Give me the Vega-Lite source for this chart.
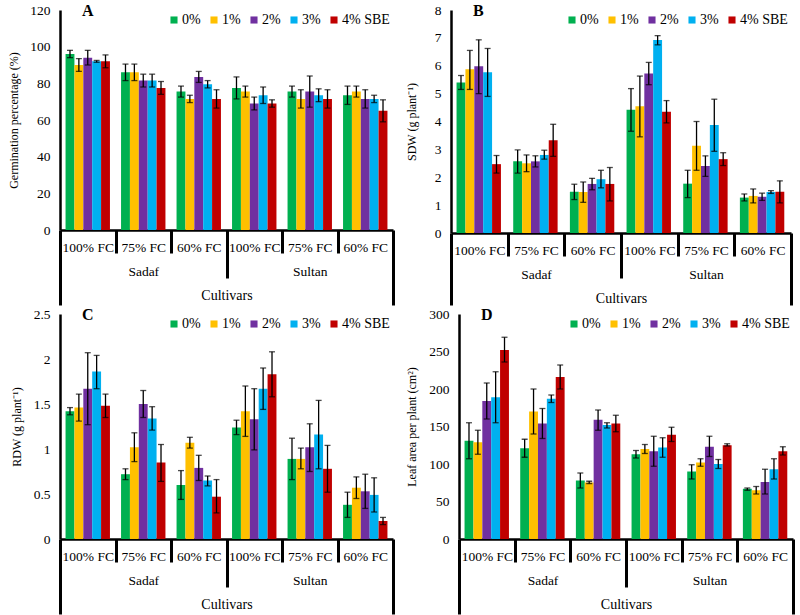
{
"$schema": "https://vega.github.io/schema/vega-lite/v6.json",
"padding": {"left": 7, "top": 3, "right": 2, "bottom": 0},
"spacing": 0,
"config": {
 "font": "Liberation Serif",
 "view": {"stroke": null},
 "concat": {"spacing": 10},
 "style": {"guide-label": {"font": "Liberation Serif", "fill": "black"}, "guide-title": {"font": "Liberation Serif", "fill": "black"}, "group-title": {"font": "Liberation Serif"}},
 "axis": {"labelFont": "Liberation Serif", "titleFont": "Liberation Serif", "labelColor": "black", "titleColor": "black", "labelFontSize": 13.5, "titleFontSize": 14, "titleFontWeight": "normal", "domainColor": "black", "tickColor": "black", "grid": false},
 "axisY": {"domainWidth": 2.5, "ticks": false, "labelPadding": 10, "labelOverlap": false, "titlePadding": 8, "titleFontSize": 12},
 "legend": {"orient": "top-right", "direction": "horizontal", "symbolType": "square", "symbolSize": 50, "symbolStrokeWidth": 0, "labelFont": "Liberation Serif", "labelFontSize": 14, "labelOffset": 1, "columnPadding": 6, "offset": 3, "padding": 0, "labelColor": "black"},
 "title": {"anchor": "start", "frame": "group", "font": "Liberation Serif", "fontSize": 16, "fontWeight": "bold", "color": "black", "dx": 22, "dy": 20}
},
"datasets": {
"A": [
{"g":"Sadaf|100% FC","t":"0%","v":96,"lo":94,"hi":98},{"g":"Sadaf|100% FC","t":"1%","v":90,"lo":86.5,"hi":93.5},{"g":"Sadaf|100% FC","t":"2%","v":94,"lo":90,"hi":98},{"g":"Sadaf|100% FC","t":"3%","v":92,"lo":91.5,"hi":92.5},{"g":"Sadaf|100% FC","t":"4% SBE","v":92,"lo":88.5,"hi":95.5},
{"g":"Sadaf|75% FC","t":"0%","v":86,"lo":81.5,"hi":90.5},{"g":"Sadaf|75% FC","t":"1%","v":86,"lo":81.5,"hi":90.5},{"g":"Sadaf|75% FC","t":"2%","v":81.5,"lo":78,"hi":85},{"g":"Sadaf|75% FC","t":"3%","v":81.5,"lo":78,"hi":85},{"g":"Sadaf|75% FC","t":"4% SBE","v":77.5,"lo":74,"hi":81},
{"g":"Sadaf|60% FC","t":"0%","v":75.5,"lo":72.5,"hi":78.5},{"g":"Sadaf|60% FC","t":"1%","v":71.5,"lo":69.5,"hi":73.5},{"g":"Sadaf|60% FC","t":"2%","v":83.5,"lo":80.5,"hi":86.5},{"g":"Sadaf|60% FC","t":"3%","v":79.5,"lo":77.5,"hi":81.5},{"g":"Sadaf|60% FC","t":"4% SBE","v":71.5,"lo":66.5,"hi":76.5},
{"g":"Sultan|100% FC","t":"0%","v":77.5,"lo":71.5,"hi":83.5},{"g":"Sultan|100% FC","t":"1%","v":75.5,"lo":72.5,"hi":78.5},{"g":"Sultan|100% FC","t":"2%","v":69,"lo":65.5,"hi":72.5},{"g":"Sultan|100% FC","t":"3%","v":73.5,"lo":69,"hi":78},{"g":"Sultan|100% FC","t":"4% SBE","v":69,"lo":67,"hi":71},
{"g":"Sultan|75% FC","t":"0%","v":75.5,"lo":72.5,"hi":78.5},{"g":"Sultan|75% FC","t":"1%","v":71.5,"lo":66.5,"hi":76.5},{"g":"Sultan|75% FC","t":"2%","v":75.5,"lo":67,"hi":84},{"g":"Sultan|75% FC","t":"3%","v":73.5,"lo":70,"hi":77},{"g":"Sultan|75% FC","t":"4% SBE","v":71.5,"lo":66.5,"hi":76.5},
{"g":"Sultan|60% FC","t":"0%","v":73.5,"lo":68.5,"hi":78.5},{"g":"Sultan|60% FC","t":"1%","v":75.5,"lo":72.5,"hi":78.5},{"g":"Sultan|60% FC","t":"2%","v":71.5,"lo":66.5,"hi":76.5},{"g":"Sultan|60% FC","t":"3%","v":71.5,"lo":69.5,"hi":73.5},{"g":"Sultan|60% FC","t":"4% SBE","v":65,"lo":59,"hi":71}
],
"B": [
{"g":"Sadaf|100% FC","t":"0%","v":5.4,"lo":5.15,"hi":5.65},{"g":"Sadaf|100% FC","t":"1%","v":5.87,"lo":5.15,"hi":6.55},{"g":"Sadaf|100% FC","t":"2%","v":5.98,"lo":5.0,"hi":6.93},{"g":"Sadaf|100% FC","t":"3%","v":5.77,"lo":4.9,"hi":6.62},{"g":"Sadaf|100% FC","t":"4% SBE","v":2.47,"lo":2.15,"hi":2.78},
{"g":"Sadaf|75% FC","t":"0%","v":2.57,"lo":2.15,"hi":2.98},{"g":"Sadaf|75% FC","t":"1%","v":2.5,"lo":2.2,"hi":2.8},{"g":"Sadaf|75% FC","t":"2%","v":2.57,"lo":2.37,"hi":2.77},{"g":"Sadaf|75% FC","t":"3%","v":2.8,"lo":2.65,"hi":2.97},{"g":"Sadaf|75% FC","t":"4% SBE","v":3.33,"lo":2.75,"hi":3.9},
{"g":"Sadaf|60% FC","t":"0%","v":1.48,"lo":1.2,"hi":1.75},{"g":"Sadaf|60% FC","t":"1%","v":1.47,"lo":1.1,"hi":1.83},{"g":"Sadaf|60% FC","t":"2%","v":1.76,"lo":1.55,"hi":1.96},{"g":"Sadaf|60% FC","t":"3%","v":1.93,"lo":1.62,"hi":2.25},{"g":"Sadaf|60% FC","t":"4% SBE","v":1.76,"lo":1.15,"hi":2.35},
{"g":"Sultan|100% FC","t":"0%","v":4.42,"lo":3.65,"hi":5.18},{"g":"Sultan|100% FC","t":"1%","v":4.55,"lo":3.45,"hi":5.63},{"g":"Sultan|100% FC","t":"2%","v":5.72,"lo":5.32,"hi":6.12},{"g":"Sultan|100% FC","t":"3%","v":6.92,"lo":6.75,"hi":7.08},{"g":"Sultan|100% FC","t":"4% SBE","v":4.35,"lo":3.95,"hi":4.75},
{"g":"Sultan|75% FC","t":"0%","v":1.77,"lo":1.27,"hi":2.25},{"g":"Sultan|75% FC","t":"1%","v":3.13,"lo":2.25,"hi":4.0},{"g":"Sultan|75% FC","t":"2%","v":2.4,"lo":2.03,"hi":2.77},{"g":"Sultan|75% FC","t":"3%","v":3.87,"lo":2.93,"hi":4.8},{"g":"Sultan|75% FC","t":"4% SBE","v":2.65,"lo":2.42,"hi":2.88},
{"g":"Sultan|60% FC","t":"0%","v":1.27,"lo":1.15,"hi":1.4},{"g":"Sultan|60% FC","t":"1%","v":1.33,"lo":1.08,"hi":1.58},{"g":"Sultan|60% FC","t":"2%","v":1.3,"lo":1.17,"hi":1.43},{"g":"Sultan|60% FC","t":"3%","v":1.47,"lo":1.42,"hi":1.52},{"g":"Sultan|60% FC","t":"4% SBE","v":1.48,"lo":1.08,"hi":1.87}
],
"C": [
{"g":"Sadaf|100% FC","t":"0%","v":1.42,"lo":1.38,"hi":1.46},{"g":"Sadaf|100% FC","t":"1%","v":1.46,"lo":1.31,"hi":1.61},{"g":"Sadaf|100% FC","t":"2%","v":1.67,"lo":1.27,"hi":2.07},{"g":"Sadaf|100% FC","t":"3%","v":1.86,"lo":1.67,"hi":2.04},{"g":"Sadaf|100% FC","t":"4% SBE","v":1.48,"lo":1.35,"hi":1.61},
{"g":"Sadaf|75% FC","t":"0%","v":0.72,"lo":0.66,"hi":0.78},{"g":"Sadaf|75% FC","t":"1%","v":1.02,"lo":0.86,"hi":1.18},{"g":"Sadaf|75% FC","t":"2%","v":1.5,"lo":1.35,"hi":1.65},{"g":"Sadaf|75% FC","t":"3%","v":1.34,"lo":1.21,"hi":1.47},{"g":"Sadaf|75% FC","t":"4% SBE","v":0.85,"lo":0.64,"hi":1.05},
{"g":"Sadaf|60% FC","t":"0%","v":0.6,"lo":0.44,"hi":0.76},{"g":"Sadaf|60% FC","t":"1%","v":1.07,"lo":1.01,"hi":1.13},{"g":"Sadaf|60% FC","t":"2%","v":0.79,"lo":0.65,"hi":0.93},{"g":"Sadaf|60% FC","t":"3%","v":0.65,"lo":0.59,"hi":0.7},{"g":"Sadaf|60% FC","t":"4% SBE","v":0.47,"lo":0.29,"hi":0.66},
{"g":"Sultan|100% FC","t":"0%","v":1.24,"lo":1.16,"hi":1.32},{"g":"Sultan|100% FC","t":"1%","v":1.42,"lo":1.14,"hi":1.7},{"g":"Sultan|100% FC","t":"2%","v":1.33,"lo":0.99,"hi":1.67},{"g":"Sultan|100% FC","t":"3%","v":1.67,"lo":1.44,"hi":1.9},{"g":"Sultan|100% FC","t":"4% SBE","v":1.83,"lo":1.58,"hi":2.08},
{"g":"Sultan|75% FC","t":"0%","v":0.89,"lo":0.66,"hi":1.12},{"g":"Sultan|75% FC","t":"1%","v":0.89,"lo":0.78,"hi":1.01},{"g":"Sultan|75% FC","t":"2%","v":1.02,"lo":0.75,"hi":1.28},{"g":"Sultan|75% FC","t":"3%","v":1.16,"lo":0.78,"hi":1.54},{"g":"Sultan|75% FC","t":"4% SBE","v":0.78,"lo":0.52,"hi":1.04},
{"g":"Sultan|60% FC","t":"0%","v":0.38,"lo":0.24,"hi":0.52},{"g":"Sultan|60% FC","t":"1%","v":0.57,"lo":0.45,"hi":0.69},{"g":"Sultan|60% FC","t":"2%","v":0.53,"lo":0.34,"hi":0.72},{"g":"Sultan|60% FC","t":"3%","v":0.49,"lo":0.3,"hi":0.68},{"g":"Sultan|60% FC","t":"4% SBE","v":0.2,"lo":0.16,"hi":0.24}
],
"D": [
{"g":"Sadaf|100% FC","t":"0%","v":131,"lo":107,"hi":155},{"g":"Sadaf|100% FC","t":"1%","v":129,"lo":113,"hi":145},{"g":"Sadaf|100% FC","t":"2%","v":184,"lo":160,"hi":208},{"g":"Sadaf|100% FC","t":"3%","v":189,"lo":155,"hi":223},{"g":"Sadaf|100% FC","t":"4% SBE","v":252,"lo":236,"hi":269},
{"g":"Sadaf|75% FC","t":"0%","v":121,"lo":109,"hi":133},{"g":"Sadaf|75% FC","t":"1%","v":170,"lo":140,"hi":200},{"g":"Sadaf|75% FC","t":"2%","v":154,"lo":134,"hi":174},{"g":"Sadaf|75% FC","t":"3%","v":187,"lo":182,"hi":192},{"g":"Sadaf|75% FC","t":"4% SBE","v":216,"lo":200,"hi":232},
{"g":"Sadaf|60% FC","t":"0%","v":78,"lo":68,"hi":88},{"g":"Sadaf|60% FC","t":"1%","v":75.5,"lo":74,"hi":77},{"g":"Sadaf|60% FC","t":"2%","v":159,"lo":145,"hi":172},{"g":"Sadaf|60% FC","t":"3%","v":152,"lo":148,"hi":155},{"g":"Sadaf|60% FC","t":"4% SBE","v":154,"lo":143,"hi":165},
{"g":"Sultan|100% FC","t":"0%","v":113,"lo":108,"hi":118},{"g":"Sultan|100% FC","t":"1%","v":120,"lo":114,"hi":126},{"g":"Sultan|100% FC","t":"2%","v":117,"lo":97,"hi":137},{"g":"Sultan|100% FC","t":"3%","v":122,"lo":109,"hi":135},{"g":"Sultan|100% FC","t":"4% SBE","v":139,"lo":130,"hi":149},
{"g":"Sultan|75% FC","t":"0%","v":90,"lo":80,"hi":99},{"g":"Sultan|75% FC","t":"1%","v":102,"lo":97,"hi":107},{"g":"Sultan|75% FC","t":"2%","v":123,"lo":110,"hi":137},{"g":"Sultan|75% FC","t":"3%","v":100,"lo":94,"hi":106},{"g":"Sultan|75% FC","t":"4% SBE","v":125,"lo":124,"hi":127},
{"g":"Sultan|60% FC","t":"0%","v":67,"lo":65,"hi":68},{"g":"Sultan|60% FC","t":"1%","v":65,"lo":60,"hi":70},{"g":"Sultan|60% FC","t":"2%","v":76,"lo":60,"hi":93},{"g":"Sultan|60% FC","t":"3%","v":93,"lo":80,"hi":107},{"g":"Sultan|60% FC","t":"4% SBE","v":117,"lo":112,"hi":123}
]
},
"vconcat": [
{"hconcat": [
{
 "width": 333, "height": 220, "title": "A",
 "data": {"name": "A"},
 "encoding": {
  "x": {"field": "g", "type": "nominal", "sort": ["Sadaf|100% FC","Sadaf|75% FC","Sadaf|60% FC","Sultan|100% FC","Sultan|75% FC","Sultan|60% FC"], "scale": {"paddingInner": 0, "paddingOuter": 0}, "title": "Cultivars",
   "axis": {"labelExpr": "indexof(datum.label,'75%') >= 0 ? [split(datum.label,'|')[1], split(datum.label,'|')[0]] : split(datum.label,'|')[1]", "labelAngle": 0, "labelBaseline": "top", "labelPadding": 7, "labelLineHeight": 24, "labelOverlap": false, "tickBand": "extent", "tickSize": 3, "tickWidth": 3, "domainWidth": 2.5, "titleY": 58, "titleBaseline": "top",
    "encoding": {"ticks": {"y2": {"condition": [{"test": "datum.index < 0 || datum.value === 'Sultan|60% FC'", "value": 75}, {"test": "datum.value === 'Sadaf|60% FC'", "value": 48}], "value": 23}}}}},
  "xOffset": {"field": "t", "type": "nominal", "sort": ["0%","1%","2%","3%","4% SBE"], "scale": {"paddingInner": 0, "paddingOuter": 0.625}},
  "y": {"field": "v", "type": "quantitative", "scale": {"domain": [0,120], "nice": false}, "axis": {"values": [0,20,40,60,80,100,120], "labelOverlap": false, "labelExpr": "'' + datum.value", "titlePadding": 9}, "title": "Germination percentage (%)"}
 },
 "layer": [
  {"mark": "bar", "encoding": {
    "color": {"field": "t", "type": "nominal", "sort": ["0%","1%","2%","3%","4% SBE"], "scale": {"domain": ["0%","1%","2%","3%","4% SBE"], "range": ["#00B050","#FFC000","#7030A0","#00B0F0","#C00000"]}, "legend": {"title": null}}}},
  {"mark": {"type": "rule", "color": "black", "strokeWidth": 1.3}, "encoding": {"y": {"field": "lo", "type": "quantitative", "scale": {"domain": [0,120], "nice": false}, "axis": {"values": [0,20,40,60,80,100,120], "labelOverlap": false, "labelExpr": "'' + datum.value", "titlePadding": 9}, "title": "Germination percentage (%)"}, "y2": {"field": "hi"}}},
  {"mark": {"type": "tick", "color": "black", "size": 6, "thickness": 1.3}, "encoding": {"y": {"field": "lo", "type": "quantitative", "scale": {"domain": [0,120], "nice": false}, "axis": {"values": [0,20,40,60,80,100,120], "labelOverlap": false, "labelExpr": "'' + datum.value", "titlePadding": 9}, "title": "Germination percentage (%)"}}},
  {"mark": {"type": "tick", "color": "black", "size": 6, "thickness": 1.3}, "encoding": {"y": {"field": "hi", "type": "quantitative", "scale": {"domain": [0,120], "nice": false}, "axis": {"values": [0,20,40,60,80,100,120], "labelOverlap": false, "labelExpr": "'' + datum.value", "titlePadding": 9}, "title": "Germination percentage (%)"}}}
 ]
},
{
 "width": 340, "height": 223, "title": "B",
 "data": {"name": "B"},
 "encoding": {
  "x": {"field": "g", "type": "nominal", "sort": ["Sadaf|100% FC","Sadaf|75% FC","Sadaf|60% FC","Sultan|100% FC","Sultan|75% FC","Sultan|60% FC"], "scale": {"paddingInner": 0, "paddingOuter": 0}, "title": "Cultivars",
   "axis": {"labelExpr": "indexof(datum.label,'75%') >= 0 ? [split(datum.label,'|')[1], split(datum.label,'|')[0]] : split(datum.label,'|')[1]", "labelAngle": 0, "labelBaseline": "top", "labelPadding": 7, "labelLineHeight": 24, "labelOverlap": false, "tickBand": "extent", "tickSize": 3, "tickWidth": 3, "domainWidth": 2.5, "titleY": 58, "titleBaseline": "top",
    "encoding": {"ticks": {"y2": {"condition": [{"test": "datum.index < 0 || datum.value === 'Sultan|60% FC'", "value": 72}, {"test": "datum.value === 'Sadaf|60% FC'", "value": 45}], "value": 23}}}}},
  "xOffset": {"field": "t", "type": "nominal", "sort": ["0%","1%","2%","3%","4% SBE"], "scale": {"paddingInner": 0, "paddingOuter": 0.625}},
  "y": {"field": "v", "type": "quantitative", "scale": {"domain": [0,8], "nice": false}, "axis": {"values": [0,1,2,3,4,5,6,7,8], "labelOverlap": false, "labelExpr": "'' + datum.value", "titlePadding": 16}, "title": "SDW (g plant⁻¹)"}
 },
 "layer": [
  {"mark": "bar", "encoding": {
    "color": {"field": "t", "type": "nominal", "sort": ["0%","1%","2%","3%","4% SBE"], "scale": {"domain": ["0%","1%","2%","3%","4% SBE"], "range": ["#00B050","#FFC000","#7030A0","#00B0F0","#C00000"]}, "legend": {"title": null}}}},
  {"mark": {"type": "rule", "color": "black", "strokeWidth": 1.3}, "encoding": {"y": {"field": "lo", "type": "quantitative", "scale": {"domain": [0,8], "nice": false}, "axis": {"values": [0,1,2,3,4,5,6,7,8], "labelOverlap": false, "labelExpr": "'' + datum.value", "titlePadding": 16}, "title": "SDW (g plant⁻¹)"}, "y2": {"field": "hi"}}},
  {"mark": {"type": "tick", "color": "black", "size": 6, "thickness": 1.3}, "encoding": {"y": {"field": "lo", "type": "quantitative", "scale": {"domain": [0,8], "nice": false}, "axis": {"values": [0,1,2,3,4,5,6,7,8], "labelOverlap": false, "labelExpr": "'' + datum.value", "titlePadding": 16}, "title": "SDW (g plant⁻¹)"}}},
  {"mark": {"type": "tick", "color": "black", "size": 6, "thickness": 1.3}, "encoding": {"y": {"field": "hi", "type": "quantitative", "scale": {"domain": [0,8], "nice": false}, "axis": {"values": [0,1,2,3,4,5,6,7,8], "labelOverlap": false, "labelExpr": "'' + datum.value", "titlePadding": 16}, "title": "SDW (g plant⁻¹)"}}}
 ]
}
], "resolve": {"scale": {"color": "independent"}, "legend": {"color": "independent"}}},
{"hconcat": [
{
 "width": 333, "height": 225, "title": "C",
 "data": {"name": "C"},
 "encoding": {
  "x": {"field": "g", "type": "nominal", "sort": ["Sadaf|100% FC","Sadaf|75% FC","Sadaf|60% FC","Sultan|100% FC","Sultan|75% FC","Sultan|60% FC"], "scale": {"paddingInner": 0, "paddingOuter": 0}, "title": "Cultivars",
   "axis": {"labelExpr": "indexof(datum.label,'75%') >= 0 ? [split(datum.label,'|')[1], split(datum.label,'|')[0]] : split(datum.label,'|')[1]", "labelAngle": 0, "labelBaseline": "top", "labelPadding": 7, "labelLineHeight": 24, "labelOverlap": false, "tickBand": "extent", "tickSize": 3, "tickWidth": 3, "domainWidth": 2.5, "titleY": 58, "titleBaseline": "top",
    "encoding": {"ticks": {"y2": {"condition": [{"test": "datum.index < 0 || datum.value === 'Sultan|60% FC'", "value": 75}, {"test": "datum.value === 'Sadaf|60% FC'", "value": 48}], "value": 23}}}}},
  "xOffset": {"field": "t", "type": "nominal", "sort": ["0%","1%","2%","3%","4% SBE"], "scale": {"paddingInner": 0, "paddingOuter": 0.625}},
  "y": {"field": "v", "type": "quantitative", "scale": {"domain": [0,2.5], "nice": false}, "axis": {"values": [0,0.5,1,1.5,2,2.5], "labelOverlap": false, "labelExpr": "'' + datum.value", "titlePadding": 10}, "title": "RDW (g plant⁻¹)"}
 },
 "layer": [
  {"mark": "bar", "encoding": {
    "color": {"field": "t", "type": "nominal", "sort": ["0%","1%","2%","3%","4% SBE"], "scale": {"domain": ["0%","1%","2%","3%","4% SBE"], "range": ["#00B050","#FFC000","#7030A0","#00B0F0","#C00000"]}, "legend": {"title": null}}}},
  {"mark": {"type": "rule", "color": "black", "strokeWidth": 1.3}, "encoding": {"y": {"field": "lo", "type": "quantitative", "scale": {"domain": [0,2.5], "nice": false}, "axis": {"values": [0,0.5,1,1.5,2,2.5], "labelOverlap": false, "labelExpr": "'' + datum.value", "titlePadding": 10}, "title": "RDW (g plant⁻¹)"}, "y2": {"field": "hi"}}},
  {"mark": {"type": "tick", "color": "black", "size": 6, "thickness": 1.3}, "encoding": {"y": {"field": "lo", "type": "quantitative", "scale": {"domain": [0,2.5], "nice": false}, "axis": {"values": [0,0.5,1,1.5,2,2.5], "labelOverlap": false, "labelExpr": "'' + datum.value", "titlePadding": 10}, "title": "RDW (g plant⁻¹)"}}},
  {"mark": {"type": "tick", "color": "black", "size": 6, "thickness": 1.3}, "encoding": {"y": {"field": "hi", "type": "quantitative", "scale": {"domain": [0,2.5], "nice": false}, "axis": {"values": [0,0.5,1,1.5,2,2.5], "labelOverlap": false, "labelExpr": "'' + datum.value", "titlePadding": 10}, "title": "RDW (g plant⁻¹)"}}}
 ]
},
{
 "width": 334, "height": 225, "title": "D",
 "data": {"name": "D"},
 "encoding": {
  "x": {"field": "g", "type": "nominal", "sort": ["Sadaf|100% FC","Sadaf|75% FC","Sadaf|60% FC","Sultan|100% FC","Sultan|75% FC","Sultan|60% FC"], "scale": {"paddingInner": 0, "paddingOuter": 0}, "title": "Cultivars",
   "axis": {"labelExpr": "indexof(datum.label,'75%') >= 0 ? [split(datum.label,'|')[1], split(datum.label,'|')[0]] : split(datum.label,'|')[1]", "labelAngle": 0, "labelBaseline": "top", "labelPadding": 7, "labelLineHeight": 24, "labelOverlap": false, "tickBand": "extent", "tickSize": 3, "tickWidth": 3, "domainWidth": 2.5, "titleY": 58, "titleBaseline": "top",
    "encoding": {"ticks": {"y2": {"condition": [{"test": "datum.index < 0 || datum.value === 'Sultan|60% FC'", "value": 75}, {"test": "datum.value === 'Sadaf|60% FC'", "value": 48}], "value": 23}}}}},
  "xOffset": {"field": "t", "type": "nominal", "sort": ["0%","1%","2%","3%","4% SBE"], "scale": {"paddingInner": 0, "paddingOuter": 0.625}},
  "y": {"field": "v", "type": "quantitative", "scale": {"domain": [0,300], "nice": false}, "axis": {"values": [0,50,100,150,200,250,300], "labelOverlap": false, "labelExpr": "'' + datum.value", "titlePadding": 10}, "title": "Leaf area per plant (cm²)"}
 },
 "layer": [
  {"mark": "bar", "encoding": {
    "color": {"field": "t", "type": "nominal", "sort": ["0%","1%","2%","3%","4% SBE"], "scale": {"domain": ["0%","1%","2%","3%","4% SBE"], "range": ["#00B050","#FFC000","#7030A0","#00B0F0","#C00000"]}, "legend": {"title": null}}}},
  {"mark": {"type": "rule", "color": "black", "strokeWidth": 1.3}, "encoding": {"y": {"field": "lo", "type": "quantitative", "scale": {"domain": [0,300], "nice": false}, "axis": {"values": [0,50,100,150,200,250,300], "labelOverlap": false, "labelExpr": "'' + datum.value", "titlePadding": 10}, "title": "Leaf area per plant (cm²)"}, "y2": {"field": "hi"}}},
  {"mark": {"type": "tick", "color": "black", "size": 6, "thickness": 1.3}, "encoding": {"y": {"field": "lo", "type": "quantitative", "scale": {"domain": [0,300], "nice": false}, "axis": {"values": [0,50,100,150,200,250,300], "labelOverlap": false, "labelExpr": "'' + datum.value", "titlePadding": 10}, "title": "Leaf area per plant (cm²)"}}},
  {"mark": {"type": "tick", "color": "black", "size": 6, "thickness": 1.3}, "encoding": {"y": {"field": "hi", "type": "quantitative", "scale": {"domain": [0,300], "nice": false}, "axis": {"values": [0,50,100,150,200,250,300], "labelOverlap": false, "labelExpr": "'' + datum.value", "titlePadding": 10}, "title": "Leaf area per plant (cm²)"}}}
 ]
}
], "resolve": {"scale": {"color": "independent"}, "legend": {"color": "independent"}}}
],
"resolve": {"scale": {"color": "independent"}, "legend": {"color": "independent"}}
}
